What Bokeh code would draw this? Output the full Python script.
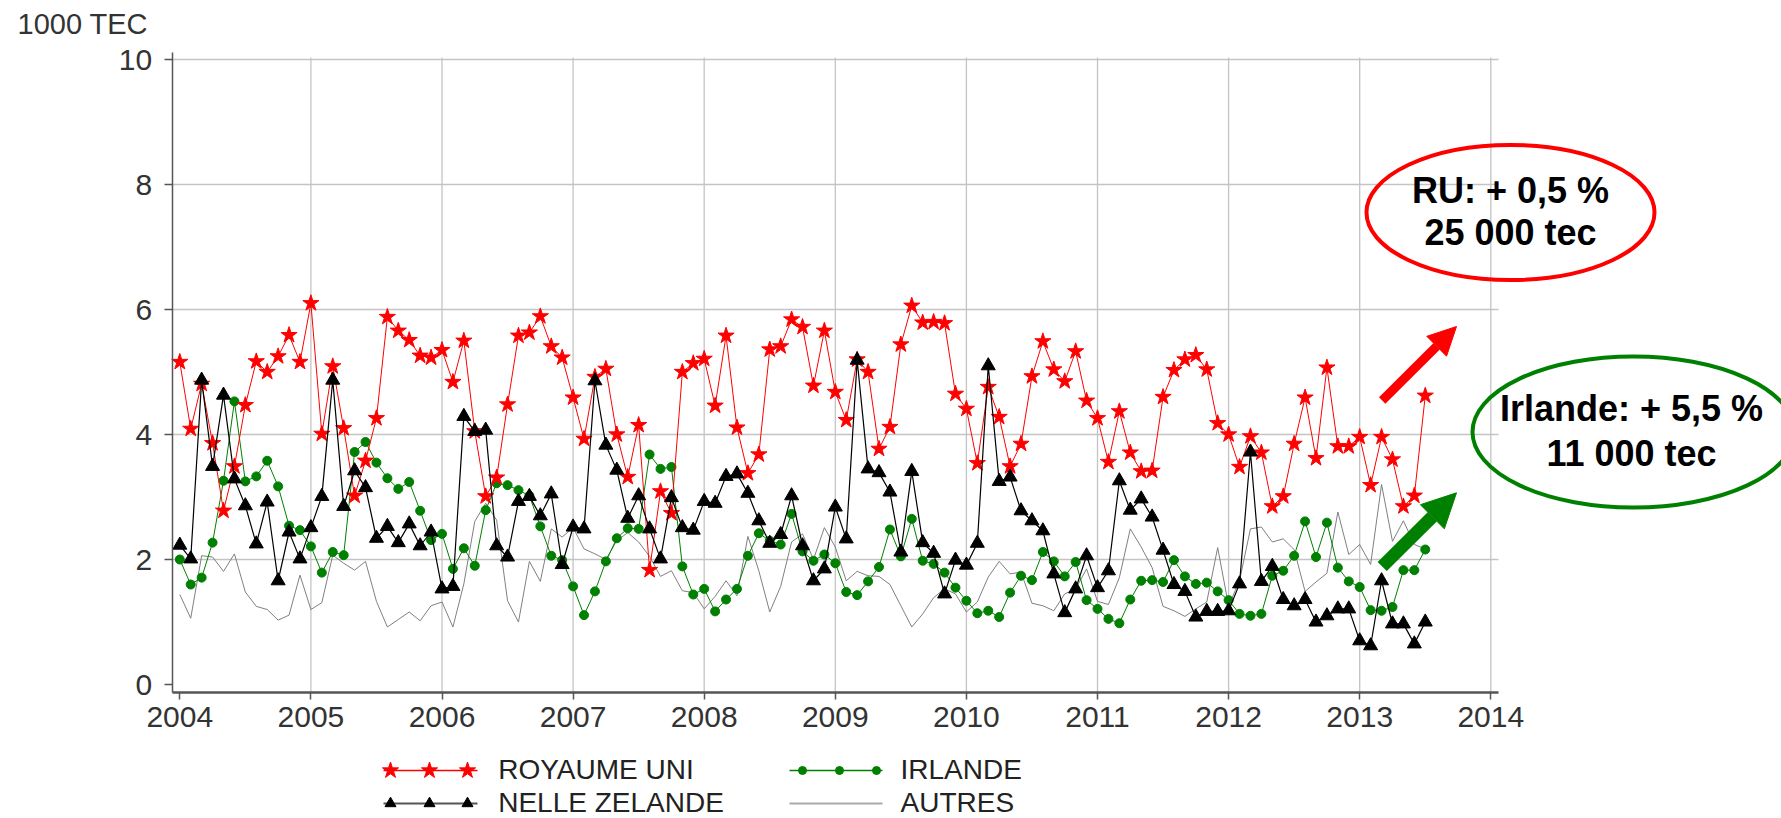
from bokeh.plotting import figure
from bokeh.models import Range1d, FixedTicker, Arrow, NormalHead
from bokeh.embed import file_html
from bokeh.resources import INLINE
from bokeh.core.properties import value

# ---------------- data (monthly, Jan 2004 -> Jul 2013, 1000 TEC) ----------------
START_YEAR = 2004
royaume_uni = [5.16, 4.09, 4.81, 3.86, 2.78, 3.49, 4.47, 5.17, 5.0, 5.25, 5.59, 5.16,
               6.1, 4.01, 5.09, 4.1, 3.02, 3.58, 4.26, 5.88, 5.66, 5.51, 5.26, 5.23,
               5.35, 4.84, 5.5, 4.05, 3.01, 3.31, 4.48, 5.58, 5.63, 5.89, 5.41, 5.23,
               4.59, 3.93, 4.92, 5.05, 4.0, 3.32, 4.15, 1.83, 3.09, 2.74, 5.0, 5.14,
               5.21, 4.46, 5.58, 4.11, 3.38, 3.68, 5.36, 5.41, 5.84, 5.72, 4.78, 5.66,
               4.68, 4.23, 5.2, 5.0, 3.77, 4.12, 5.44, 6.06, 5.79, 5.8, 5.78, 4.65,
               4.41, 3.54, 4.76, 4.28, 3.49, 3.85, 4.93, 5.49, 5.04, 4.85, 5.33, 4.54,
               4.26, 3.56, 4.37, 3.71, 3.41, 3.42, 4.6, 5.03, 5.2, 5.27, 5.04, 4.18,
               4.0, 3.48, 3.97, 3.71, 2.85, 3.01, 3.85, 4.59, 3.62, 5.07, 3.81, 3.81,
               3.96, 3.19, 3.96, 3.6, 2.85, 3.02, 4.62]
nelle_zelande = [2.23, 2.01, 4.87, 3.49, 4.63, 3.29, 2.86, 2.25, 2.92, 1.66, 2.44, 2.01,
                 2.51, 3.01, 4.87, 2.85, 3.42, 3.15, 2.34, 2.53, 2.27, 2.57, 2.22, 2.44,
                 1.53, 1.57, 4.29, 4.05, 4.07, 2.22, 2.04, 2.93, 3.01, 2.7, 3.05, 1.92,
                 2.52, 2.49, 4.86, 3.83, 3.43, 2.66, 3.02, 2.49, 2.01, 2.99, 2.51, 2.47,
                 2.93, 2.9, 3.33, 3.37, 3.06, 2.62, 2.26, 2.4, 3.02, 2.22, 1.66, 1.85,
                 2.84, 2.33, 5.19, 3.45, 3.39, 3.08, 2.12, 3.41, 2.27, 2.1, 1.45, 1.99,
                 1.91, 2.26, 5.1, 3.25, 3.32, 2.78, 2.62, 2.46, 1.77, 1.15, 1.53, 2.06,
                 1.55, 1.82, 3.26, 2.79, 2.97, 2.68, 2.15, 1.6, 1.49, 1.08, 1.17, 1.17,
                 1.18, 1.61, 3.72, 1.65, 1.89, 1.36, 1.26, 1.36, 1.0, 1.1, 1.21, 1.21,
                 0.7, 0.62, 1.66, 0.97, 0.97, 0.65, 1.0]
irlande = [2.0, 1.6, 1.71, 2.27, 3.26, 4.53, 3.25, 3.33, 3.58, 3.17, 2.54, 2.47,
           2.21, 1.79, 2.12, 2.07, 3.72, 3.88, 3.55, 3.3, 3.13, 3.24, 2.78, 2.31,
           2.41, 1.85, 2.18, 1.9, 2.79, 3.22, 3.19, 3.11, 3.02, 2.53, 2.06, 1.99,
           1.57, 1.11, 1.49, 1.97, 2.34, 2.5, 2.49, 3.68, 3.45, 3.48, 1.89, 1.44,
           1.53, 1.17, 1.36, 1.53, 2.06, 2.42, 2.3, 2.24, 2.73, 2.13, 1.98, 2.08,
           1.94, 1.48, 1.43, 1.65, 1.88, 2.48, 2.05, 2.65, 1.98, 1.93, 1.79, 1.55,
           1.34, 1.14, 1.18, 1.08, 1.47, 1.74, 1.67, 2.12, 1.97, 1.73, 1.96, 1.35,
           1.21, 1.05, 0.98, 1.36, 1.66, 1.67, 1.64, 1.99, 1.73, 1.61, 1.63, 1.49,
           1.35, 1.13, 1.1, 1.13, 1.74, 1.82, 2.06, 2.61, 2.04, 2.59, 1.87, 1.65,
           1.56, 1.19, 1.18, 1.24, 1.83, 1.83, 2.16]
autres = [1.44, 1.06, 2.06, 2.04, 1.81, 2.09, 1.48, 1.25, 1.2, 1.03, 1.11, 1.75,
          1.2, 1.31, 2.07, 1.94, 1.83, 1.97, 1.33, 0.92, 1.04, 1.16, 1.02, 1.26,
          1.32, 0.92, 1.61, 2.61, 2.9, 2.63, 1.34, 1.0, 1.97, 1.65, 2.49, 2.36,
          2.51, 2.17, 2.09, 2.0, 2.3, 2.43, 2.28, 2.05, 1.73, 1.82, 1.5, 1.47,
          1.21, 1.41, 1.66, 1.42, 2.37, 1.82, 1.16, 1.57, 2.28, 2.41, 2.0, 2.51,
          2.2, 1.66, 1.81, 1.74, 1.73, 1.6, 1.26, 0.92, 1.13, 1.39, 1.53, 1.45,
          1.16, 1.32, 1.72, 1.97, 1.77, 1.8, 1.3, 1.26, 1.18, 1.45, 1.53, 1.85,
          1.33, 1.28, 1.71, 2.49, 2.2, 1.87, 1.25, 1.18, 1.09, 1.21, 1.32, 2.19,
          1.26, 1.66, 2.49, 2.52, 2.28, 2.33, 2.16, 1.49, 1.64, 1.78, 2.76, 2.08,
          2.24, 1.92, 3.2, 2.29, 2.62, 2.24, 2.17]

x_ticks = list(range(2004, 2015))
y_ticks = [0, 2, 4, 6, 8, 10]
legend_labels = ["ROYAUME UNI", "NELLE ZELANDE", "IRLANDE", "AUTRES"]
y_title = "1000 TEC"
annot_ru = ["RU: + 0,5 %", "25 000 tec"]
annot_irl = ["Irlande: + 5,5 %", "11 000 tec"]

months = [START_YEAR + i / 12 for i in range(len(royaume_uni))]

# ---------------- styling / layout ----------------
FONT = "Liberation Sans"
RED = "#ff0000"
GREEN = "#008000"
GREY = "#808080"
GRID = "#c4c4c4"
AXIS = "#555555"
W, H = 1781, 818
BASE_FIX = 0.4  # baseline correction (fraction of font size)


# pixel -> data helpers (used only for decoration placement)
def px_x(X):
    return 2004 + (X - 179.3) / 131.1


def px_y(Y):
    return (684 - Y) / 62.5


def base_y(Y, size):
    return px_y(Y - BASE_FIX * size)


p = figure(width=W, height=H, title=None,
           x_range=Range1d(px_x(0), px_x(W)), y_range=Range1d(px_y(H), px_y(0)),
           output_backend="svg", toolbar_location=None)
p.min_border = 0
p.min_border_left = 0
p.min_border_right = 0
p.min_border_top = 0
p.min_border_bottom = 0
p.outline_line_color = None
p.xgrid.visible = False
p.ygrid.visible = False

X_AXIS_AT = px_y(691.7)
Y_AXIS_AT = px_x(171.7)
X_AXIS_END = px_x(1498)
Y_AXIS_TOP = px_y(52)

# axes drawn at fixed positions inside the frame
p.xaxis.fixed_location = X_AXIS_AT
p.yaxis.fixed_location = Y_AXIS_AT
p.xaxis.ticker = FixedTicker(ticks=x_ticks)
p.yaxis.ticker = FixedTicker(ticks=y_ticks)
p.xaxis.bounds = (Y_AXIS_AT, X_AXIS_END)
p.yaxis.bounds = (X_AXIS_AT, Y_AXIS_TOP)
for ax in (p.xaxis[0], p.yaxis[0]):
    ax.axis_line_color = AXIS
    ax.major_tick_line_color = AXIS
    ax.major_tick_line_width = 1.5
    ax.minor_tick_line_color = None
    ax.major_tick_in = 0
    ax.major_label_text_font = FONT
    ax.major_label_text_font_size = "30px"
    ax.major_label_text_color = "#333333"
p.xaxis.axis_line_width = 2.5
p.yaxis.axis_line_width = 1.5
p.xaxis.major_tick_out = 7
p.yaxis.major_tick_out = 8
p.xaxis.major_label_standoff = 8
p.yaxis.major_label_standoff = 12

# grid lines (built from the tick lists)
p.segment(x0=Y_AXIS_AT, x1=X_AXIS_END, y0=y_ticks[1:], y1=y_ticks[1:],
          line_color=GRID, line_width=1.3, level="underlay")
p.segment(x0=x_ticks[1:], x1=x_ticks[1:], y0=X_AXIS_AT, y1=px_y(57),
          line_color=GRID, line_width=1.3, level="underlay")

# series
p.line(months, autres, line_color=GREY, line_width=1)
p.line(months, irlande, line_color=GREEN, line_width=1)
p.scatter(months, irlande, marker="circle", size=9, fill_color=GREEN, line_color=GREEN)
p.line(months, royaume_uni, line_color=RED, line_width=1)
p.scatter(months, royaume_uni, marker="star", size=17, fill_color=RED, line_color=RED)
p.line(months, nelle_zelande, line_color="black", line_width=1.2)
p.scatter(months, nelle_zelande, marker="triangle", size=14, fill_color="black", line_color="black")

# y title
p.text(x=[px_x(17)], y=[base_y(35, 29)], text=[y_title], text_font=value(FONT),
       text_font_size="29px", text_color="#333333", text_align="left",
       text_baseline="alphabetic")

# callouts
p.ellipse(x=[px_x(1510)], y=[px_y(212)], width=288, height=135, width_units="screen",
          height_units="screen", fill_color=None, line_color=RED, line_width=4)
p.ellipse(x=[px_x(1633)], y=[px_y(431.5)], width=322, height=151, width_units="screen",
          height_units="screen", fill_color=None, line_color=GREEN, line_width=4)
p.text(x=[px_x(1510)] * 2, y=[base_y(204, 36), base_y(246.7, 36)], text=annot_ru,
       text_font=value(FONT), text_font_size="36px", text_font_style="bold",
       text_color="black", text_align="center", text_baseline="alphabetic")
p.text(x=[px_x(1631)] * 2, y=[base_y(422.7, 36), base_y(467.3, 36)], text=annot_irl,
       text_font=value(FONT), text_font_size="36px", text_font_style="bold",
       text_color="black", text_align="center", text_baseline="alphabetic")
p.add_layout(Arrow(end=NormalHead(size=28, fill_color=RED, line_color=RED),
                   x_start=px_x(1381.7), y_start=px_y(400), x_end=px_x(1456), y_end=px_y(326),
                   line_color=RED, line_width=9))
p.add_layout(Arrow(end=NormalHead(size=34, fill_color=GREEN, line_color=GREEN),
                   x_start=px_x(1381.7), y_start=px_y(566), x_end=px_x(1456), y_end=px_y(492.3),
                   line_color=GREEN, line_width=13))

# legend (two columns under the axis)
R1, R2 = 770, 803
C1_LINE = [px_x(383), px_x(477)]
C1_MARK = [px_x(390), px_x(429), px_x(467)]
C2_LINE = [px_x(789), px_x(882)]
C2_MARK = [px_x(802), px_x(839), px_x(876)]
p.line(C1_LINE, [px_y(R1)] * 2, line_color=RED, line_width=1.5)
p.scatter(C1_MARK, [px_y(R1)] * 3, marker="star", size=17, fill_color=RED, line_color=RED)
p.line(C1_LINE, [px_y(R2)] * 2, line_color=AXIS, line_width=2)
p.scatter(C1_MARK, [px_y(R2)] * 3, marker="triangle", size=11, fill_color="black", line_color="black")
p.line(C2_LINE, [px_y(R1)] * 2, line_color=GREEN, line_width=1.5)
p.scatter(C2_MARK, [px_y(R1)] * 3, marker="circle", size=8, fill_color=GREEN, line_color=GREEN)
p.line(C2_LINE, [px_y(R2)] * 2, line_color="#aaaaaa", line_width=2)
p.text(x=[px_x(497.7), px_x(497.7), px_x(900), px_x(900)],
       y=[base_y(R1 + 10, 28), base_y(R2 + 10, 28), base_y(R1 + 10, 28), base_y(R2 + 10, 28)],
       text=legend_labels, text_font=value(FONT), text_font_size="28px",
       text_color="#222222", text_baseline="alphabetic", text_align="left")

open("out.html", "w").write(file_html(p, INLINE))
